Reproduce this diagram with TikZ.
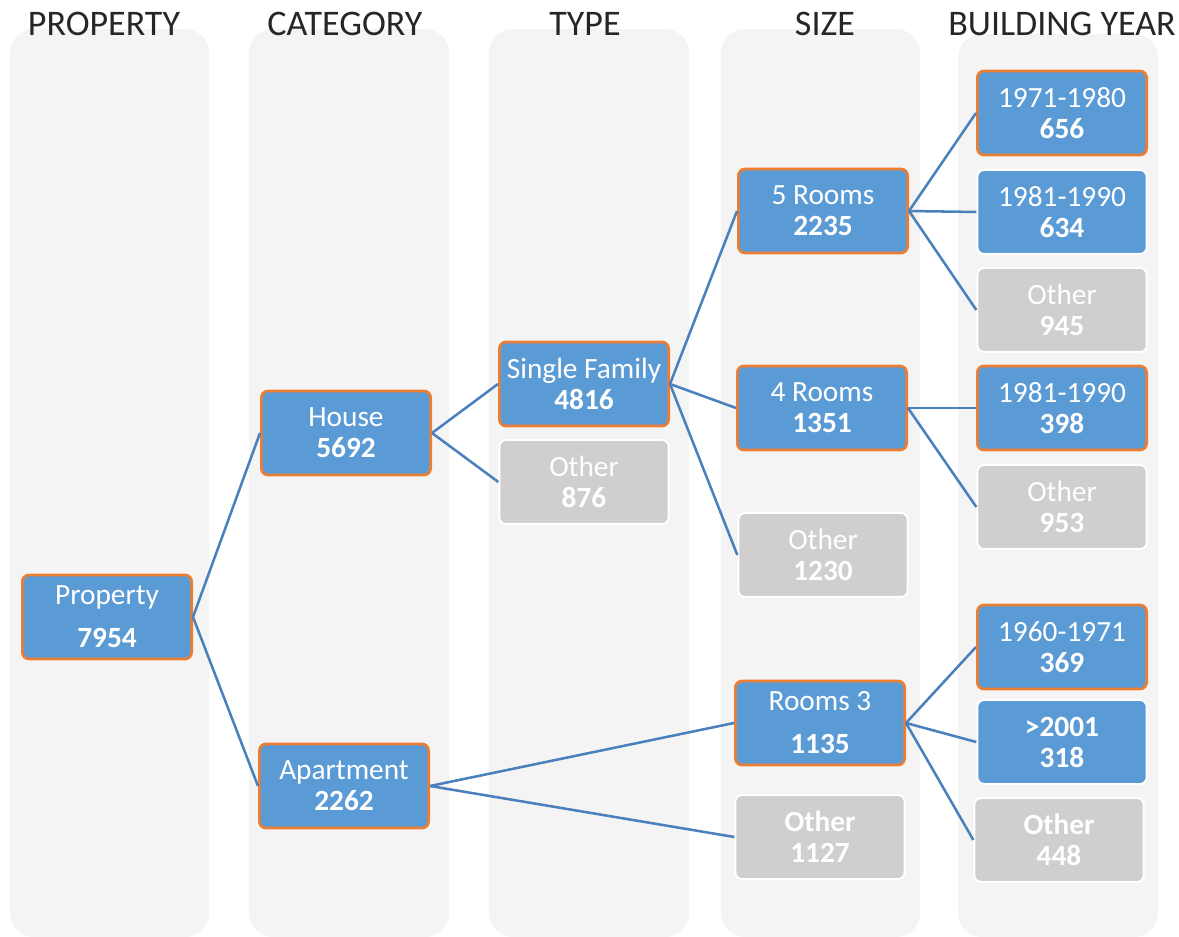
\documentclass[tikz,border=0pt]{standalone}
\usepackage{fontspec}
\setmainfont{Carlito}
\usepackage{tikz}

\definecolor{colbg}{HTML}{F4F4F4}
\definecolor{boxblue}{HTML}{5B9BD5}
\definecolor{boxgrey}{HTML}{D0CECE}
\definecolor{edgeorange}{HTML}{ED7D31}
\definecolor{linkblue}{HTML}{4A80BC}

\begin{document}
\begin{tikzpicture}
    [x=0.75pt, y=-0.75pt,
    column/.style={fill=colbg, rounded corners=18pt},
    heading/.style={font=\fontsize{27}{30}\selectfont, anchor=base, text=black!85},
    box/.style={rectangle, rounded corners=5pt, minimum width=127pt, minimum height=63pt,
      inner sep=0pt, align=center, text=white, font=\fontsize{22}{23.25}\selectfont},
    picked/.style={box, fill=boxblue, draw=edgeorange, line width=2pt},
    kept/.style={box, fill=boxblue, draw=white, line width=1.5pt},
    rest/.style={box, fill=boxgrey, draw=white, line width=1.5pt},
    link/.style={draw=linkblue, line width=1.9pt}]
  \useasboundingbox (0,0) rectangle (1179,937);

  % columns
  \fill[column] (10,29) rectangle (209,937);
  \fill[column] (249,29) rectangle (449,937);
  \fill[column] (489,29) rectangle (689,937);
  \fill[column] (721,29) rectangle (920,937);
  \fill[column] (958,34) rectangle (1158,937);

  \node[heading] (hprop) at (104,36) {PROPERTY};
  \node[heading] (hcat) at (345,36) {CATEGORY};
  \node[heading] (htype) at (585,36) {TYPE};
  \node[heading] (hsize) at (825,36) {SIZE};
  \node[heading] (hyear) at (1062,36) {BUILDING YEAR};

  % property / category
  \node[picked] (prop) at (107,617) {Property\\[9pt]\textbf{7954}};
  \node[picked] (house) at (346,433) {House\\\textbf{5692}};
  \node[picked] (apart) at (344,786) {Apartment\\\textbf{2262}};

  % type
  \node[picked] (single) at (584,384) {Single Family\\\textbf{4816}};
  \node[rest] (typeother) at (584,482) {Other\\\textbf{876}};

  % size
  \node[picked] (five) at (823,211) {5 Rooms\\\textbf{2235}};
  \node[picked] (four) at (822,408) {4 Rooms\\\textbf{1351}};
  \node[rest] (sizeother) at (823,555) {Other\\\textbf{1230}};
  \node[picked] (three) at (820,723) {Rooms 3\\[9pt]\textbf{1135}};
  \node[rest] (aptother) at (820,837) {\textbf{Other}\\\textbf{1127}};

  % building year
  \node[picked] (fiveA) at (1062,113) {1971-1980\\\textbf{656}};
  \node[kept] (fiveB) at (1062,212) {1981-1990\\\textbf{634}};
  \node[rest] (fiveC) at (1062,310) {Other\\\textbf{945}};
  \node[picked] (fourA) at (1062,408) {1981-1990\\\textbf{398}};
  \node[rest] (fourB) at (1062,507) {Other\\\textbf{953}};
  \node[picked] (threeA) at (1062,647) {1960-1971\\\textbf{369}};
  \node[kept] (threeB) at (1062,742) {\textbf{>2001}\\\textbf{318}};
  \node[rest] (threeC) at (1059,840) {\textbf{Other}\\\textbf{448}};

  \draw[link] (prop.east) -- (house.west);
  \draw[link] (prop.east) -- (apart.west);
  \draw[link] (house.east) -- (single.west);
  \draw[link] (house.east) -- (typeother.west);
  \draw[link] (apart.east) -- (three.west);
  \draw[link] (apart.east) -- (aptother.west);
  \draw[link] (single.east) -- (five.west);
  \draw[link] (single.east) -- (four.west);
  \draw[link] (single.east) -- (sizeother.west);
  \draw[link] (five.east) -- (fiveA.west);
  \draw[link] (five.east) -- (fiveB.west);
  \draw[link] (five.east) -- (fiveC.west);
  \draw[link] (four.east) -- (fourA.west);
  \draw[link] (four.east) -- (fourB.west);
  \draw[link] (three.east) -- (threeA.west);
  \draw[link] (three.east) -- (threeB.west);
  \draw[link] (three.east) -- (threeC.west);
\end{tikzpicture}
\end{document}
